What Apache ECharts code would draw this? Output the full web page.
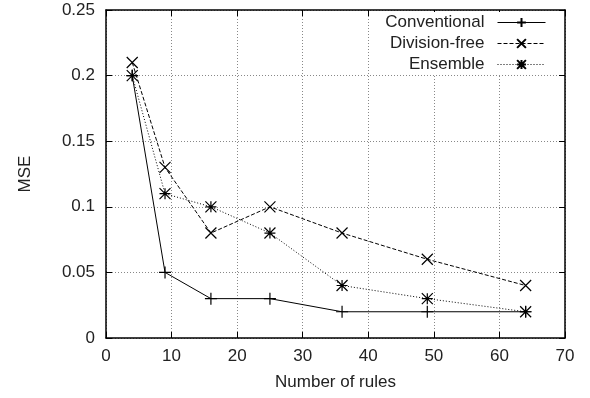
<!DOCTYPE html>
<html>
<head>
<meta charset="utf-8">
<script src="https://cdn.jsdelivr.net/npm/echarts@6/dist/echarts.min.js"></script>
<style>
  html, body { margin: 0; padding: 0; background: #fff; }
  #chart { width: 590px; height: 398px; }
</style>
</head>
<body>
<div id="chart"></div>
<script>
// number of rules on the x axis
const rules = [4, 9, 16, 25, 36, 49, 64]
const conventional = [0.2, 0.05, 0.03, 0.03, 0.02, 0.02, 0.02]
const divisionFree = [0.21, 0.13, 0.08, 0.10, 0.08, 0.06, 0.04]
const ensemble = [0.2, 0.11, 0.10, 0.08, 0.04, 0.03, 0.02]

const plusSym = 'path://M0,5L10,5M5,0L5,10'
const crossSym = 'path://M0,0L10,10M10,0L0,10'
const starSym = 'path://M0,0L10,10M10,0L0,10M0,5L10,5M5,0L5,10'

const font = 'Liberation Sans, Arial, sans-serif'
const txt = '#222'
const pairs = vals => rules.map((r, i) => [r, vals[i]])

const chart = echarts.init(document.getElementById('chart'))

const baseX = {
    type: 'value', min: 0, max: 70, interval: 10,
    axisLine: { show: true, onZero: false, lineStyle: { color: '#000', width: 1.5 } },
    axisTick: { show: true, inside: true, length: 6, lineStyle: { color: '#000' } },
}
const baseY = {
    type: 'value', min: 0, max: 0.25, interval: 0.05,
    axisLine: { show: true, onZero: false, lineStyle: { color: '#000', width: 1.5 } },
    axisTick: { show: true, inside: true, length: 6, lineStyle: { color: '#000' } },
}

function mkSeries(name, data, sym, size, lineType) {
    return {
        name,
        type: 'line',
        data: pairs(data),
        symbol: sym,
        symbolSize: size,
        showAllSymbol: true,
        color: '#000',
        lineStyle: { color: '#000', width: 1, type: lineType },
        itemStyle: { color: '#000', borderColor: '#000', borderWidth: 1.2 },
        emphasis: { disabled: true },
        animation: false,
    }
}

chart.setOption({
    backgroundColor: '#fff',
    animation: false,
    grid: { left: 106, right: 25, top: 10, bottom: 60 },
    legend: {
        right: 40,
        top: 12,
        orient: 'vertical',
        align: 'right',
        itemWidth: 48,
        itemHeight: 11,
        itemGap: 4,
        backgroundColor: '#fff',
        padding: [2, 4, 2, 8],
        lineStyle: { width: 1 },
        textStyle: { fontFamily: font, fontSize: 17, color: txt, padding: [0, 8, 0, 0] },
        data: ['Conventional', 'Division-free', 'Ensemble'],
    },
    xAxis: [
        Object.assign({}, baseX, {
            position: 'bottom',
            name: 'Number of rules',
            nameLocation: 'middle',
            nameGap: 36,
            nameTextStyle: { fontFamily: font, fontSize: 17, color: txt },
            axisLabel: { fontFamily: font, fontSize: 17, color: txt, margin: 10 },
            splitLine: { show: true, lineStyle: { color: '#888', type: [1, 2], width: 1 } },
        }),
        Object.assign({}, baseX, {
            position: 'top',
            axisLabel: { show: false },
            splitLine: { show: false },
        }),
    ],
    yAxis: [
        Object.assign({}, baseY, {
            position: 'left',
            name: 'MSE',
            nameLocation: 'middle',
            nameGap: 72,
            nameRotate: 90,
            nameTextStyle: { fontFamily: font, fontSize: 17, color: txt },
            axisLabel: { fontFamily: font, fontSize: 17, color: txt, margin: 11 },
            splitLine: { show: true, lineStyle: { color: '#888', type: [1, 2], width: 1 } },
        }),
        Object.assign({}, baseY, {
            position: 'right',
            axisLabel: { show: false },
            splitLine: { show: false },
        }),
    ],
    series: [
        mkSeries('Conventional', conventional, plusSym, 12, 'solid'),
        mkSeries('Division-free', divisionFree, crossSym, 11, [4, 2]),
        mkSeries('Ensemble', ensemble, starSym, 11, [1, 2]),
    ],
})
</script>
</body>
</html>
